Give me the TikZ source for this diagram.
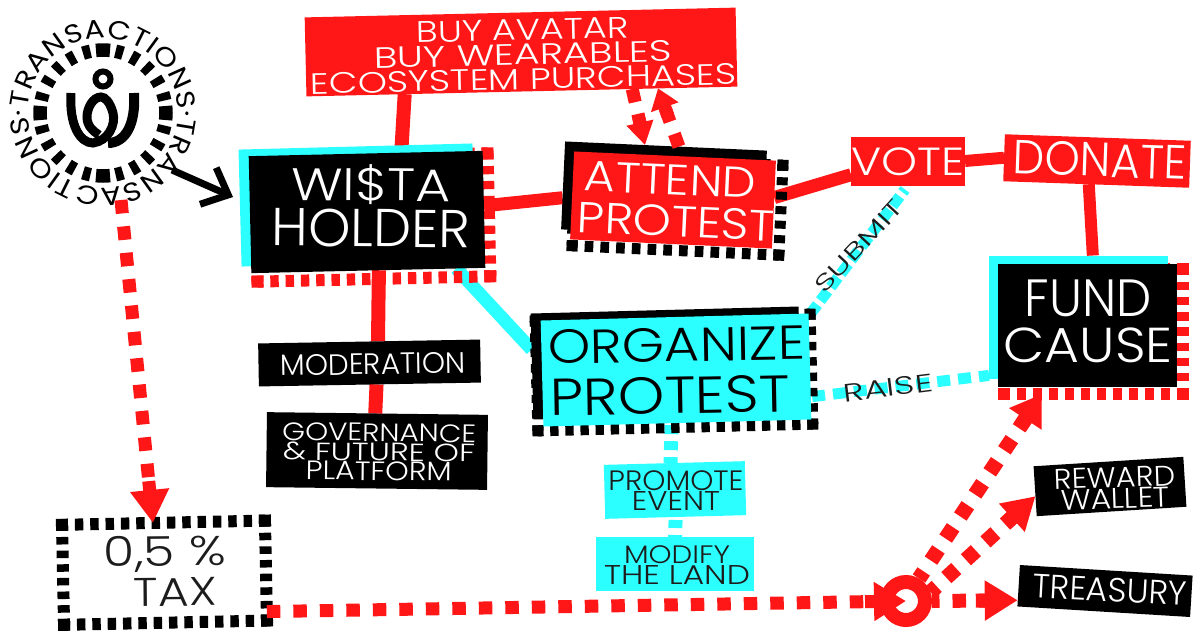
\documentclass[tikz,border=0pt]{standalone}
\usepackage{fontspec}
\usepackage{graphicx}
\setmainfont{Poppins Light}
\newfontfamily\stf{Poppins Light}
\newfontfamily\circf[FakeStretch=1.15]{Poppins}
\usetikzlibrary{calc,arrows.meta,backgrounds,decorations.text}
\definecolor{rd}{HTML}{FF1717}
\definecolor{cy}{HTML}{2CFFFF}
\definecolor{ink}{HTML}{1C1C1C}
\newcommand{\fitt}[3]{\resizebox*{#1pt}{#2pt}{\stf #3}}
\tikzset{
  boxx/.style args={#1/#2}{minimum width=#1pt,minimum height=#2pt,inner sep=0pt,outer sep=0pt},
  txt/.style={align=center,inner sep=0pt,font=\fontsize{10}{#1}\selectfont},
  link/.style={rd,line width=13pt},
  clink/.style={cy,line width=11pt}
}
% dashed frame with heavier corner squares
\newcommand{\dside}[6]{%
  \pgfmathsetmacro\nn{max(1,round((#3-#6)/16))}%
  \pgfmathsetmacro\pp{(#3-#6)/(\nn+0.45)}%
  \pgfmathsetmacro\dd{0.55*\pp}%
  \pgfmathsetmacro\gg{0.45*\pp}%
  \pgfmathsetmacro\ph{\pp-mod(#6/2+\gg,\pp)}%
  \draw[#5,line width=#6pt,dash pattern=on \dd pt off \gg pt,dash phase=\ph pt] (#1) -- (#2);}
\newcommand{\dframe}[8]{%
  \node[boxx=#4/#5,rotate=#6] (#1) at (#2,#3) {};
  \dside{#1.north west}{#1.north east}{#4}{0}{#7}{#8}
  \dside{#1.south west}{#1.south east}{#4}{0}{#7}{#8}
  \dside{#1.north west}{#1.south west}{#5}{0}{#7}{#8}
  \dside{#1.north east}{#1.south east}{#5}{0}{#7}{#8}
  \foreach \cc in {north west,north east,south west,south east}
    \node[fill=#7,minimum size=#8pt,inner sep=0pt,rotate=#6] (#1 \cc) at (#1.\cc) {};
}
% dashed arrow: from, to, width, head length, head width, dash phase
\newcommand{\darrow}[6]{%
  \draw[rd,line width=#3pt,dash pattern=on 13.5pt off 13pt,dash phase=#6pt,shorten >=#4pt] (#1) -- (#2);
  \draw[rd,line width=#3pt,-{Triangle[length=#4pt,width=#5pt]}] ($(#2)!#4pt+9pt!(#1)$) -- (#2);}
\begin{document}
\begin{tikzpicture}[x=1pt,y=-1pt]
\useasboundingbox (0,0) rectangle (1196,632);

% ---- logo
\coordinate (logo) at (103,113);
\foreach \a in {0,15,...,345}{
  \pgfmathsetmacro\hh{mod(\a,90)==0?6.4:3.5}
  \draw[line width=13.5pt] ($(logo)+({\a-\hh}:63)$) arc[start angle={\a-\hh},end angle={\a+\hh},radius=63];
}
\draw[line width=6pt] (103,79) circle[radius=7.5];
\draw[line width=9pt] (71,93) .. controls (69,125) and (80,143) .. (93,143)
   .. controls (108,141) and (116,125) .. (113,113)
   .. controls (110,102) and (105,97) .. (101,97)
   .. controls (93,97) and (87,108) .. (87,117)
   .. controls (87,126) and (93,131) .. (99,135);
\draw[line width=10pt] (134,93) .. controls (136,125) and (125,143) .. (108,143);
\path[decorate,decoration={text along path,text align={fit to path},
  text={|\circf\fontsize{26}{26}\selectfont|TRANSACTIONS·TRANSACTIONS·}}]
  ($(logo)+(-176.5:75)$) arc[start angle=-176.5,delta angle=359,radius=75];

% ---- boxes
\node[boxx=431/79,fill=rd,rotate=1.3] (buy) at (521,52) {};
\node[txt=24.5,rotate=1.3,white] (buyT) at (523,54.5) {\fitt{213}{21}{BUY AVATAR}\\\fitt{298}{21}{BUY WEARABLES}\\\fitt{426}{21}{ECOSYSTEM PURCHASES}};

\dframe{wistaF}{372.5}{217.5}{233}{123}{1.3}{rd}{12}
\node[boxx=234/117,fill=cy,rotate=1.5] (wistaS) at (357,205) {};
\node[boxx=234/117,fill=black,rotate=1.3] (wista) at (367,212) {};
\node[txt=46,rotate=-0.5,white] (wistaT) at (371,206) {\fitt{159}{40}{WI\$TA}\\\fitt{198}{38}{HOLDER}};

\dframe{attendF}{677.5}{205.5}{207}{90}{-2.6}{black}{11}
\node[boxx=202/88,fill=black,rotate=-2.6] (attendS) at (664,190) {};
\node[boxx=202/88,fill=rd,rotate=-2.6] (attend) at (673,200) {};
\node[txt=42,rotate=-2.6,white] (attendT) at (677,201) {\fitt{172}{30}{ATTEND}\hspace*{15pt}\\\fitt{197}{31}{PROTEST}};

\node[boxx=114/49,fill=rd] (vote) at (908,161) {};
\node[txt=20,white] (voteT) at (908,162) {\fitt{113}{28}{VOTE}};
\node[boxx=186/47,fill=rd,rotate=-2] (donate) at (1097,161) {};
\node[txt=20,rotate=-2,white] (donateT) at (1100,160) {\fitt{173}{34}{DONATE}};

\dframe{orgF}{674}{372.5}{275}{110}{1.4}{black}{11}
\node[boxx=268/106,fill=black,rotate=1.5] (orgS) at (666,363) {};
\node[boxx=268/106,fill=cy,rotate=1.5] (org) at (676,370) {};
\node[txt=52,rotate=1,black] (orgT) at (677,371) {\fitt{257}{34}{ORGANIZE}\\\fitt{240}{37}{PROTEST}\hspace*{15pt}};

\dframe{fundF}{1093.5}{331.5}{179}{125}{0}{rd}{12}
\node[boxx=179/123,fill=cy] (fundS) at (1078.5,317) {};
\node[boxx=179/123,fill=black] (fund) at (1087.5,325) {};
\node[txt=46,white] (fundT) at (1088,321) {\fitt{127}{37}{FUND}\\\fitt{169}{35}{CAUSE}};

\node[boxx=222/43,fill=black,rotate=1] (mod) at (369.5,363) {};
\node[txt=20,rotate=1,white] (modT) at (373,364) {\fitt{186}{21}{MODERATION}};
\node[boxx=221/75,fill=black,rotate=-0.7] (gov) at (377,451) {};
\node[txt=19.5,rotate=-0.7,white] (govT) at (379,452) {\fitt{194}{18}{GOVERNANCE}\\\fitt{192}{18}{\&\ FUTURE OF}\\\fitt{146}{19}{PLATFORM}};

\dframe{tax}{164.5}{572.7}{203}{100}{1.2}{black}{12}
\node[txt=40,rotate=0.5,ink] (taxT) at (165,571) {\fitt{122}{36}{0,5 \%}\\\hspace*{20pt}\fitt{83}{28}{TAX}};

\node[boxx=141/54,fill=cy,rotate=1.5] (promote) at (675,490) {};
\node[txt=20,ink] (promoteT) at (676,491) {\fitt{135}{20}{PROMOTE}\\\fitt{88}{19}{EVENT}};
\node[boxx=158/54,fill=cy] (modify) at (675,564) {};
\node[txt=19,ink] (modifyT) at (677,565) {\fitt{106}{18}{MODIFY}\\\fitt{146}{19}{THE LAND}};

\node[boxx=150/50,fill=black,rotate=3.6] (reward) at (1110,486.5) {};
\node[txt=20,rotate=2,white] (rewardT) at (1115,488) {\fitt{121}{20}{REWARD}\\\fitt{109}{20}{WALLET}};
\node[boxx=173/41.5,fill=black,rotate=-3.5] (treasury) at (1105,591) {};
\node[txt=20,rotate=-3,white] (treasuryT) at (1110,590) {\fitt{154}{24}{TREASURY}};

\node[draw=rd,line width=14pt,circle,minimum size=38pt,inner sep=0pt,outer sep=7pt] (hub) at (906,601) {};

% ---- connectors behind the boxes
\begin{scope}[on background layer]
\draw[link,line width=14pt] ($(buy.south west)!.228!(buy.south east)$) -- ($(wista.north west)!.652!(wista.north east)$);
\draw[link] ($(wista.north east)!.47!(wista.south east)$) -- ($(attendS.north west)!.64!(attendS.south west)$);
\draw[link] ($(attend.north east)!.42!(attend.south east)$) -- ($(vote.north west)!.78!(vote.south west)$);
\draw[link,line width=12pt] (vote.east) -- (donate.west);
\draw[link,line width=12pt] ($(donate.south west)!.46!(donate.south east)$) -- ($(fundS.north west)!.58!(fundS.north east)$);
\draw[link,line width=14pt] ($(wista.south west)!.545!(wista.south east)$) -- ($(mod.north west)!.54!(mod.north east)$);
\draw[link,line width=14pt] ($(mod.south west)!.53!(mod.south east)$) -- ($(gov.north west)!.49!(gov.north east)$);
\draw[cy,line width=13pt] ($(wista.south west)!.876!(wista.south east)$) -- ($(orgS.north west)!.34!(orgS.south west)$);
\draw[clink,dash pattern=on 12pt off 5pt,shorten >=5pt] (orgF.north east) -- (vote.south);
\draw[clink,dash pattern=on 13pt off 8pt] ($(orgF.north east)!.75!(orgF.south east)$) -- ($(fundS.north west)!.975!(fundS.south west)$);
\draw[cy,line width=14pt,dash pattern=on 9pt off 7pt,dash phase=14pt] ($(org.south west)!.478!(org.south east)$) -- ($(promote.north west)!.474!(promote.north east)$);
\draw[cy,line width=14pt,dash pattern=on 8pt off 7pt,dash phase=12pt] (promote.south) -- (modify.north);
\end{scope}

\node[txt=20,rotate=47,ink] (submitT) at (859,246) {\fitt{118}{16}{SUBMIT}};
\node[txt=20,rotate=7,ink] (raiseT) at (888,388) {\fitt{90}{18}{RAISE}};

% ---- arrows on top
\coordinate (logoOut) at (172,170);
\coordinate (wistaIn) at (233,197);
\draw[line width=7pt,-{Straight Barb[length=22pt,width=40pt]}] (logoOut) -- (wistaIn);
\coordinate (logoS) at (121,200);
\darrow{logoS}{$(tax.north west)!.448!(tax.north east)$}{13}{33}{37}{0}
\darrow{$(tax.north east)!.91!(tax.south east)$}{hub.center}{13}{32}{37}{0}
\darrow{hub.east}{$(treasury.north west)!.85!(treasury.south west)$}{14}{33}{38}{6}
\darrow{hub.20}{$(reward.north west)!.6!(reward.south west)$}{15}{32}{36}{5}
\darrow{hub.60}{$(fundF.south west)!.212!(fundF.south east)$}{15}{30}{37}{5}
\darrow{$(buy.south west)!.756!(buy.south east)$}{$(attendS.north west)!.396!(attendS.north east)$}{13}{23}{26}{0}
\darrow{$(attendS.north west)!.564!(attendS.north east)$}{$(buy.south west)!.816!(buy.south east)$}{13}{20}{28}{0}
\end{tikzpicture}
\end{document}
